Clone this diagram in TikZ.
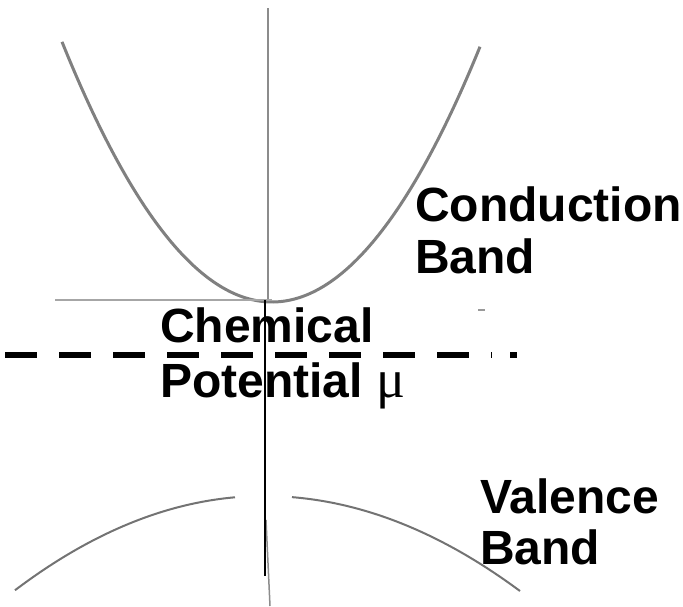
\documentclass[tikz,border=0pt]{standalone}
\usepackage{fontspec}
\setmainfont{Liberation Sans}
\newfontfamily\serifmu{Liberation Serif}
\begin{document}
\begin{tikzpicture}[x=1pt,y=-1pt,
  lbl/.style={anchor=base west,inner sep=0pt,font=\fontsize{48}{54}\selectfont\bfseries},
  band/.style={draw=black!50,line width=3pt},
  vband/.style={draw=black!55,line width=2pt},
  axis/.style={draw=black!45,line width=1.5pt}]
\useasboundingbox (0,0) rectangle (683,606);
% conduction band
\draw[band] plot[domain=62:480,samples=100,smooth] (\x,{302-59*((\x-272)/100)^2});
\draw[axis] (268,8) -- (268,300);
\draw[draw=black!35,line width=1.5pt] (55,300) -- (272,300);
\draw[draw=black!40,line width=1.5pt] (478,310) -- (485,310);
% valence band
\draw[vband] plot[domain=15:235,samples=60,smooth] (\x,{496+15.2*((\x-264)/100)^2});
\draw[vband] plot[domain=292:520,samples=60,smooth] (\x,{496+14.5*((\x-264)/100)^2});
\draw[axis] (266,520) -- (270,606);
% labels
\node[lbl] (chem) at (160,342) {Chemical};
\node[lbl] (pot) at (160,397) {Potential {\mdseries\serifmu\fontsize{54}{60}\selectfont μ}};
\node[lbl] (cond) at (415,221) {Conduction};
\node[lbl] (cband) at (415,273) {Band};
\node[lbl] (val) at (480,513) {Valence};
\node[lbl] (vband) at (480,564) {Band};
% chemical potential line
\draw[line width=6pt,dash pattern=on 32pt off 22pt] (5,355) -- (492,355);
\fill (510,352) rectangle (517,358);
% black axis
\draw[line width=2pt] (265,300) -- (265,576);
\end{tikzpicture}
\end{document}
